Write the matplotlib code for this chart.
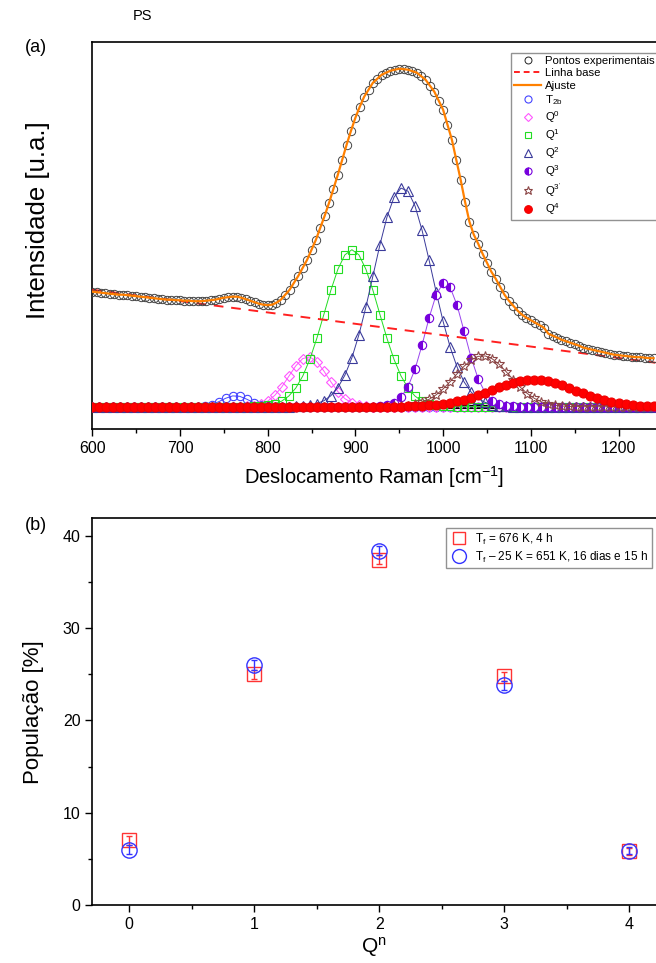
import numpy as np
import matplotlib
matplotlib.use('Agg')
import matplotlib.pyplot as plt
from matplotlib.lines import Line2D
from matplotlib.ticker import MultipleLocator

plt.rcParams['font.family'] = ['Liberation Sans', 'DejaVu Sans']
plt.rcParams['mathtext.fontset'] = 'custom'
plt.rcParams['mathtext.rm'] = 'Liberation Sans'
plt.rcParams['mathtext.it'] = 'Liberation Sans'
plt.rcParams['mathtext.bf'] = 'Liberation Sans:bold'

# ---------------- data: panel (a) ----------------
raman_shift = np.arange(600, 1241, 5)
experimental = [
    115, 114.5, 114, 113.5, 113, 112.5, 112, 112, 111.5, 111,
    110.5, 110, 109.5, 109, 108.5, 108, 107.5, 107, 107, 106.5,
    106.5, 106, 106, 105.5, 105.5, 105.5, 106, 106.5, 107, 108,
    109, 109.5, 110, 110, 109, 107.5, 106, 104.5, 103, 102,
    101.5, 102, 104, 107, 112, 117, 124, 131, 139, 147,
    157, 167, 179, 191, 204, 218, 232, 247, 262, 276,
    289, 300, 310, 317, 324, 328, 332, 334, 336, 337,
    338, 337.5, 337, 335.5, 334, 330.5, 327, 321, 315, 306,
    297, 282, 267, 247, 227, 205, 185, 172, 163, 153,
    144, 135, 128, 120, 112, 106, 101, 96, 92, 89,
    86.5, 84, 81.5, 79, 73, 71, 69, 67, 65.5, 64,
    62.5, 61, 59, 58, 57, 56, 55, 54, 53, 52,
    51.5, 51, 50.5, 50, 49.5, 49.5, 49, 48.5, 48.5,
]
baseline_x = [600, 1242]
baseline_y = [117, 44]

component_grid = np.arange(600, 1246, 8)
comp_names = ['T$_{2b}$', 'Q$^0$', 'Q$^1$', 'Q$^2$', 'Q$^3$', "Q$^{3'}$", 'Q$^4$']
comp_center = [763, 846, 896, 954, 1002, 1045, 1103]
comp_height = [11, 50, 157, 219, 124, 51, 27]
comp_sigma = [15, 22, 31, 33.5, 22, 31, 48]

# ---------------- data: panel (b) ----------------
qn = [0, 1, 2, 3, 4]
pop_676 = [7.0, 25.0, 37.4, 24.8, 5.8]
pop_651 = [6.0, 26.0, 38.4, 23.8, 5.9]
err_676 = [0.5, 0.5, 0.5, 0.5, 0.4]
err_651 = [0.5, 0.5, 0.5, 0.5, 0.4]

W, H = 656, 963
fig = plt.figure(figsize=(W / 100, H / 100), dpi=100)
fig.patch.set_facecolor('white')

def px(l, t, r, b):
    return [l / W, 1 - b / H, (r - l) / W, (b - t) / H]

# ---------------- panel (a) ----------------
ax1 = fig.add_axes(px(92.3, 42, 656, 429.3))
ax1.set_xlim(600, 600 + (656 - 92.3) / 0.877)
ax1.set_ylim(-22.6, 364.7)
ax1.spines['right'].set_visible(False)

ax1.axhline(0, color='black', lw=3, zorder=2)

styles = [
    dict(marker='o', mfc='none', mec='#4444FF', color='#4444FF', ms=6),
    dict(marker='D', mfc='none', mec='#FF55FF', color='#FF55FF', ms=5),
    dict(marker='s', mfc='none', mec='#22DD22', color='#22DD22', ms=5.5),
    dict(marker='^', mfc='none', mec='#3A3A9A', color='#3A3A9A', ms=6.5),
    dict(marker='o', fillstyle='left', mfc='#7700DD', mfcalt='white', mec='#7700DD', color='#9944EE', ms=6),
    dict(marker='*', mfc='none', mec='#8B4545', color='#8B4545', ms=7.5),
    dict(marker='o', mfc='#FF0000', mec='#EE0000', color='#FF0000', ms=6.5),
]

for c, h, s, st in zip(comp_center, comp_height, comp_sigma, styles):
    yv = h * np.exp(-(component_grid - c) ** 2 / (2 * s ** 2))
    ax1.plot(component_grid, yv, lw=0.7, mew=0.8, zorder=3, **st)

ax1.plot(raman_shift, experimental, linestyle='none', marker='o', ms=6,
         mfc='none', mec='#444444', mew=0.7, zorder=4)
ax1.plot(baseline_x, baseline_y, color='#FF2020', lw=1.4, ls=(0, (5, 4)), zorder=3)
ax1.plot(raman_shift, experimental, color='#FF8000', lw=1.6, zorder=5)

ax1.set_yticks([])
ax1.xaxis.set_major_locator(MultipleLocator(100))
ax1.xaxis.set_minor_locator(MultipleLocator(50))
ax1.tick_params(axis='x', which='major', direction='out', length=5, width=1, labelsize=11.5)
ax1.tick_params(axis='x', which='minor', direction='out', length=3, width=1)
for sp in ax1.spines.values():
    sp.set_linewidth(1.2)
ax1.set_xlabel('Deslocamento Raman [cm$^{-1}$]', fontsize=14.5, labelpad=6)
fig.text(38 / W, 1 - 220 / H, 'Intensidade [u.a.]', fontsize=18.5, rotation=90,
         ha='center', va='center')

handles = [Line2D([], [], ls='none', marker='o', mfc='none', mec='#222222', ms=5, mew=0.7),
           Line2D([], [], color='#FF2020', lw=1.4, ls=(0, (3, 2))),
           Line2D([], [], color='#FF8000', lw=1.6)]
for st in styles:
    d = dict(st)
    d.pop('color')
    d['ms'] = d['ms'] * 0.85
    handles.append(Line2D([], [], ls='none', mew=0.8, **d))
labels = ['Pontos experimentais', 'Linha base', 'Ajuste'] + comp_names
leg1 = ax1.legend(handles, labels, loc='upper left', bbox_to_anchor=(505 / W, 1 - 47 / H),
                  bbox_transform=fig.transFigure, fontsize=8.2, frameon=True, fancybox=False,
                  edgecolor='#777777', handlelength=2.4, handletextpad=0.3, labelspacing=0.2,
                  borderpad=0.3, numpoints=1)
leg1.get_frame().set_linewidth(1.0)

fig.text(25 / W, 1 - 48 / H, '(a)', fontsize=13, va='center', ha='left')
fig.text(133 / W, 1 - 16 / H, 'PS', fontsize=10.5, va='center', ha='left')

# ---------------- panel (b) ----------------
ax2 = fig.add_axes(px(92.3, 518.3, 656, 905))
ax2.set_xlim(-0.296, -0.296 + (656 - 92.3) / 125)
ax2.set_ylim(0, 41.9)
ax2.spines['right'].set_visible(False)

ax2.errorbar(qn, pop_676, yerr=err_676, fmt='s', ms=10, mfc='none', mec='#FF3333', mew=1.0,
             ecolor='#FF3333', elinewidth=1.0, capsize=2.5, capthick=1.0, zorder=3)
ax2.errorbar(qn, pop_651, yerr=err_651, fmt='o', ms=11, mfc='none', mec='#3333FF', mew=1.0,
             ecolor='#3333FF', elinewidth=1.0, capsize=2.5, capthick=1.0, zorder=4)

ax2.xaxis.set_major_locator(MultipleLocator(1))
ax2.xaxis.set_minor_locator(MultipleLocator(0.5))
ax2.yaxis.set_major_locator(MultipleLocator(10))
ax2.yaxis.set_minor_locator(MultipleLocator(5))
ax2.tick_params(which='major', direction='out', length=5, width=1, labelsize=11.5)
ax2.tick_params(which='minor', direction='out', length=3, width=1)
for sp in ax2.spines.values():
    sp.set_linewidth(1.2)
ax2.set_xlabel('Q$^n$', fontsize=15, labelpad=2)
fig.text(34 / W, 1 - 712 / H, 'População [%]', fontsize=16, rotation=90,
         ha='center', va='center')

h2 = [Line2D([], [], ls='none', marker='s', ms=9, mfc='none', mec='#FF3333', mew=1.0),
      Line2D([], [], ls='none', marker='o', ms=10, mfc='none', mec='#3333FF', mew=1.0)]
l2 = ['T$_f$ = 676 K, 4 h', 'T$_f$ – 25 K = 651 K, 16 dias e 15 h']
leg2 = ax2.legend(h2, l2, loc='upper left', bbox_to_anchor=(440 / W, 1 - 522 / H),
                  bbox_transform=fig.transFigure, fontsize=8.5, frameon=True, fancybox=False,
                  edgecolor='#777777', handlelength=1.6, handletextpad=0.6, labelspacing=0.25,
                  borderpad=0.3, numpoints=1)
leg2.get_frame().set_linewidth(1.0)

fig.text(25 / W, 1 - 525 / H, '(b)', fontsize=13, va='center', ha='left')

fig.savefig('out.png', dpi=100, facecolor='white')
